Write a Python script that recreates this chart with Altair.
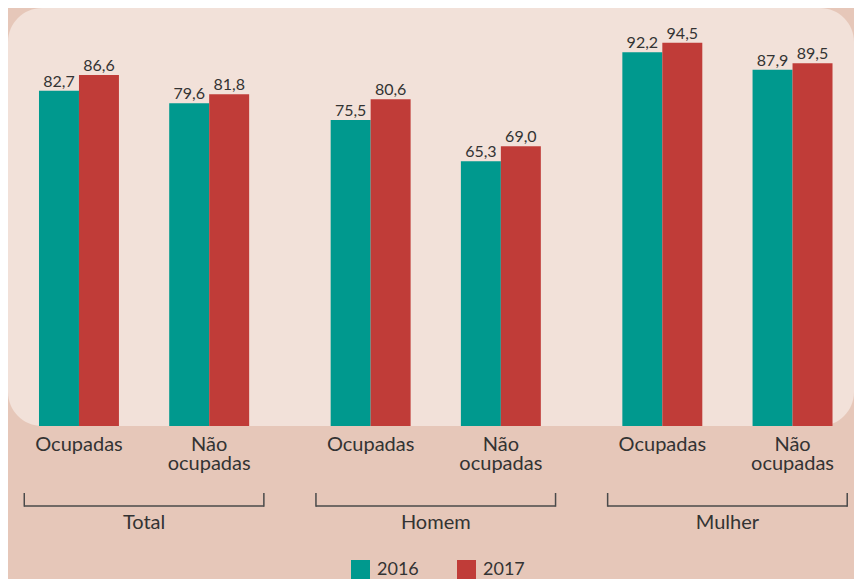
import altair as alt
import pandas as pd

groups = ["Total", "Homem", "Mulher"]
statuses = ["Ocupadas", "Não ocupadas"]
status_labels = ["Ocupadas", "Não\nocupadas"]
years = ["2016", "2017"]
values_2016 = [82.7, 79.6, 75.5, 65.3, 92.2, 87.9]
values_2017 = [86.6, 81.8, 80.6, 69.0, 94.5, 89.5]

TEAL = "#00998e"
RED = "#c03c38"
PANEL = "#f2e1d9"
BG = "#e6c7b9"
TXT = "#333333"
FONT = "Lato"

GROUP_STEP = 2.24
BAR_W = 0.307
HALF_BRACKET = 0.92

W, H = 846, 418

rows = []
for gi, g in enumerate(groups):
    for si, s in enumerate(statuses):
        k = gi * 2 + si
        for yi, (yr, vals) in enumerate(zip(years, [values_2016, values_2017])):
            rows.append({"group": g, "gi": gi, "si": si, "status": s,
                         "label": status_labels[si], "year": yr, "yi": yi,
                         "value": vals[k]})
df = pd.DataFrame(rows)
gdf = pd.DataFrame({"group": groups, "gi": list(range(len(groups)))})

xscale = alt.Scale(domain=[-0.545, 5.952], nice=False, zero=False)
yscale = alt.Scale(domain=[0, 103.1], nice=False, zero=True)

panel = alt.Chart(pd.DataFrame({"a": [0]})).mark_rect(
    color=PANEL, cornerRadius=34
).encode(x=alt.value(0), x2=alt.value(W), y=alt.value(0), y2=alt.value(H))

base = alt.Chart(df).transform_calculate(
    pos=f"datum.gi*{GROUP_STEP} + datum.si",
).transform_calculate(
    x0=f"datum.pos + (datum.yi - 1)*{BAR_W}",
    x1=f"datum.pos + datum.yi*{BAR_W}",
    xc=f"datum.pos + (datum.yi - 0.5)*{BAR_W}",
    txt="replace(format(datum.value, '.1f'), '.', ',')",
)

bars = base.mark_bar().encode(
    x=alt.X("x0:Q", scale=xscale, axis=None),
    x2="x1:Q",
    y=alt.Y("value:Q", scale=yscale, axis=None),
    y2=alt.datum(0),
    color=alt.Color("year:N", scale=alt.Scale(domain=years, range=[TEAL, RED]),
                    legend=alt.Legend(orient="none", legendX=343, legendY=552,
                                      direction="horizontal", title=None,
                                      symbolType="square", symbolSize=361,
                                      symbolStrokeWidth=0, labelFontSize=18,
                                      labelOffset=7, columnPadding=38,
                                      labelFont=FONT, labelColor=TXT, padding=0)),
)

vlabels = base.mark_text(baseline="alphabetic", dy=-4, fontSize=16, font=FONT, color=TXT).encode(
    x=alt.X("xc:Q", scale=xscale, axis=None),
    y=alt.Y("value:Q", scale=yscale, axis=None),
    text="txt:N",
)

catlabels = base.transform_filter("datum.yi == 0").mark_text(
    baseline="alphabetic", fontSize=20, font=FONT, color=TXT, lineBreak="\n", lineHeight=19
).encode(
    x=alt.X("pos:Q", scale=xscale, axis=None),
    y=alt.value(443),
    text="label:N",
)

gbase = alt.Chart(gdf).transform_calculate(
    c=f"datum.gi*{GROUP_STEP} + 0.5",
).transform_calculate(
    l=f"datum.c - {HALF_BRACKET}",
    r=f"datum.c + {HALF_BRACKET}",
)

hline = gbase.mark_rule(color="#4a4a4a", strokeWidth=1.5).encode(
    x=alt.X("l:Q", scale=xscale, axis=None), x2="r:Q", y=alt.value(498)
)
ltick = gbase.mark_rule(color="#4a4a4a", strokeWidth=1.5).encode(
    x=alt.X("l:Q", scale=xscale, axis=None), y=alt.value(485), y2=alt.value(498.7)
)
rtick = gbase.mark_rule(color="#4a4a4a", strokeWidth=1.5).encode(
    x=alt.X("r:Q", scale=xscale, axis=None), y=alt.value(485), y2=alt.value(498.7)
)
glabels = gbase.mark_text(baseline="alphabetic", fontSize=20, font=FONT, color=TXT).encode(
    x=alt.X("c:Q", scale=xscale, axis=None), y=alt.value(521), text="group:N"
)

chart = alt.layer(panel, bars, vlabels, catlabels, hline, ltick, rtick, glabels).properties(
    width=W, height=H,
    autosize=alt.AutoSizeParams(type="none"),
    padding={"left": 0, "top": 0, "right": 0, "bottom": 153},
    background=BG,
).configure_view(stroke=None)

chart.save("out.html", embed_options={"renderer": "svg", "actions": False})
